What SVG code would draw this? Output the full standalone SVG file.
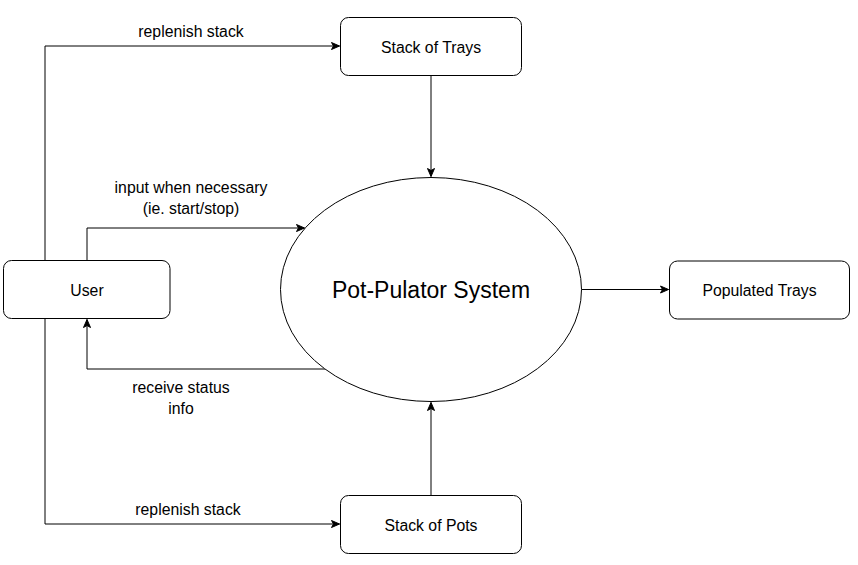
<svg xmlns="http://www.w3.org/2000/svg" width="858" height="565" viewBox="0 0 858 565">
<style>
.box{fill:#fff;stroke:#000;stroke-width:1}
.t{font-family:"Liberation Sans",Arial,sans-serif;font-size:15.8px;fill:#000;text-anchor:middle}
.big{font-size:23px}
.c{fill:none;stroke:#000;stroke-width:1}
</style>
<defs>
<marker id="arr" viewBox="0 0 10 10" refX="9" refY="5" markerWidth="10" markerHeight="10" markerUnits="userSpaceOnUse" orient="auto">
<path d="M1,1.5 L9,5 L1,8.5 L3,5 Z" fill="#000" stroke="#000" stroke-width="1"/>
</marker>
</defs>
<g id="connectors">
<path class="c" d="M45,260.5 V46 H339.5" marker-end="url(#arr)"/>
<path class="c" d="M87,260.5 V228 H304.5" marker-end="url(#arr)"/>
<path class="c" d="M325,369 H87 V319.5" marker-end="url(#arr)"/>
<path class="c" d="M45,318.5 V524 H339.5" marker-end="url(#arr)"/>
<path class="c" d="M431,75.5 V176.5" marker-end="url(#arr)"/>
<path class="c" d="M431,495.5 V402.5" marker-end="url(#arr)"/>
<path class="c" d="M581.5,289.5 H668.5" marker-end="url(#arr)"/>
<text class="t" x="191" y="37">replenish stack</text>
<text class="t" x="191" y="193">input when necessary</text>
<text class="t" x="191" y="214">(ie. start/stop)</text>
<text class="t" x="181" y="393">receive status</text>
<text class="t" x="181" y="414">info</text>
<text class="t" x="188" y="515">replenish stack</text>
</g>
<g id="user">
<rect class="box" x="3.5" y="260.5" width="166.5" height="58" rx="8"/>
<text class="t" x="87" y="295.5">User</text>
</g>
<g id="stack-trays">
<rect class="box" x="340.5" y="17.5" width="181" height="58" rx="8"/>
<text class="t" x="431" y="52.5">Stack of Trays</text>
</g>
<g id="system">
<ellipse class="box" cx="431" cy="289.5" rx="150.5" ry="112"/>
<text class="t big" x="431" y="298">Pot-Pulator System</text>
</g>
<g id="stack-pots">
<rect class="box" x="340.5" y="495.5" width="181" height="58" rx="8"/>
<text class="t" x="431" y="530.5">Stack of Pots</text>
</g>
<g id="populated-trays">
<rect class="box" x="669.5" y="261" width="180" height="58" rx="8"/>
<text class="t" x="759.5" y="295.5">Populated Trays</text>
</g>
</svg>
